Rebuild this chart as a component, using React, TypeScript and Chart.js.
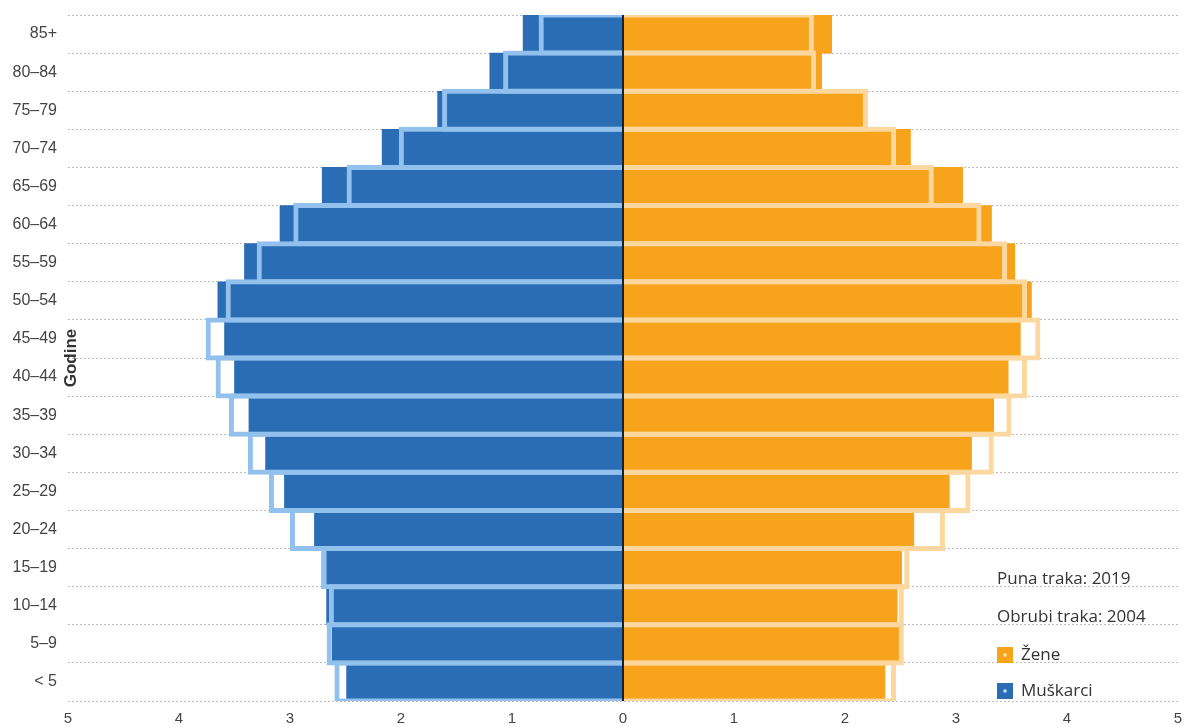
import React, { useEffect, useRef } from "react";
import { Chart, registerables } from "chart.js";

Chart.register(...registerables);

const ageGroups = ["85+", "80–84", "75–79", "70–74", "65–69", "60–64", "55–59", "50–54", "45–49", "40–44", "35–39", "30–34", "25–29", "20–24", "15–19", "10–14", "5–9", "< 5"];
const men2019 = [0.9, 1.2, 1.67, 2.17, 2.71, 3.09, 3.41, 3.65, 3.59, 3.5, 3.37, 3.22, 3.05, 2.78, 2.67, 2.67, 2.62, 2.49];
const men2004 = [0.76, 1.08, 1.63, 2.02, 2.49, 2.97, 3.3, 3.58, 3.76, 3.67, 3.55, 3.38, 3.19, 3.0, 2.72, 2.65, 2.67, 2.6];
const women2019 = [1.88, 1.79, 2.16, 2.59, 3.06, 3.32, 3.53, 3.68, 3.58, 3.47, 3.34, 3.14, 2.94, 2.62, 2.51, 2.47, 2.5, 2.36];
const women2004 = [1.72, 1.74, 2.21, 2.46, 2.8, 3.23, 3.46, 3.64, 3.76, 3.64, 3.5, 3.34, 3.13, 2.9, 2.58, 2.53, 2.53, 2.46];
const xMin = -5;
const xMax = 5;
const axisTitle = "Godine";
const noteLines = ["Puna traka: 2019", "Obrubi traka: 2004"];
const seriesNames = ["Žene", "Muškarci"];

const BLUE = "#2a6db4";
const BLUE_LIGHT = "#93c1ee";
const ORANGE = "#f7a31c";
const ORANGE_LIGHT = "#fcd79f";

export default function App() {
  const ref = useRef<HTMLCanvasElement | null>(null);

  useEffect(() => {
    document.body.style.margin = "0";
    const canvas = ref.current;
    if (!canvas) return;

    const overlay = {
      id: "overlay",
      afterDatasetsDraw(chart: any) {
        const { ctx, chartArea } = chart;
        const x0 = chart.scales.x.getPixelForValue(0);
        ctx.save();
        ctx.strokeStyle = "#17212c";
        ctx.lineWidth = 2;
        ctx.beginPath();
        ctx.moveTo(x0, chartArea.top);
        ctx.lineTo(x0, chartArea.bottom);
        ctx.stroke();
        ctx.restore();
      },
      afterDraw(chart: any) {
        const { ctx, chartArea } = chart;
        ctx.save();
        ctx.translate(chartArea.left + 3, (chartArea.top + chartArea.bottom) / 2);
        ctx.rotate(-Math.PI / 2);
        ctx.font = 'bold 17px "Liberation Sans", Arial, sans-serif';
        ctx.fillStyle = "#333";
        ctx.textAlign = "center";
        ctx.textBaseline = "middle";
        ctx.fillText(axisTitle, 0, 0);
        ctx.restore();

        ctx.save();
        const lx = 997;
        ctx.font = '17px "Open Sans", sans-serif';
        ctx.fillStyle = "#333";
        ctx.textBaseline = "middle";
        ctx.textAlign = "left";
        ctx.fillText(noteLines[0], lx, 579);
        ctx.fillText(noteLines[1], lx, 617);
        const markers = [
          { y: 655, c: ORANGE, d: "#fde9b0", t: seriesNames[0] },
          { y: 691, c: BLUE, d: "#cfe3f7", t: seriesNames[1] },
        ];
        for (const m of markers) {
          ctx.fillStyle = m.c;
          ctx.fillRect(lx, m.y - 8, 16, 16);
          ctx.fillStyle = m.d;
          ctx.fillRect(lx + 6.5, m.y - 1.5, 3, 3);
          ctx.fillStyle = "#333";
          ctx.fillText(m.t, lx + 24, m.y);
        }
        ctx.restore();
      },
    };

    const outlinePct = 1 + 5 / 38.1;

    const chart = new Chart(canvas, {
      type: "bar",
      data: {
        labels: ageGroups,
        datasets: [
          {
            label: "Muškarci 2004",
            data: men2004.map((v) => -v),
            backgroundColor: "rgba(0,0,0,0)",
            borderColor: BLUE_LIGHT,
            borderWidth: 5,
            borderSkipped: "start",
            barPercentage: outlinePct,
            categoryPercentage: 1,
            grouped: false,
          },
          {
            label: "Žene 2004",
            data: women2004,
            backgroundColor: "rgba(0,0,0,0)",
            borderColor: ORANGE_LIGHT,
            borderWidth: 5,
            borderSkipped: "start",
            barPercentage: outlinePct,
            categoryPercentage: 1,
            grouped: false,
          },
          {
            label: "Muškarci 2019",
            data: men2019.map((v) => -v),
            backgroundColor: BLUE,
            borderWidth: 0,
            barPercentage: 1,
            categoryPercentage: 1,
            grouped: false,
          },
          {
            label: "Žene 2019",
            data: women2019,
            backgroundColor: ORANGE,
            borderWidth: 0,
            barPercentage: 1,
            categoryPercentage: 1,
            grouped: false,
          },
        ],
      } as any,
      options: {
        indexAxis: "y",
        animation: false,
        responsive: false,
        layout: { padding: { top: 15, right: 7, left: 0, bottom: 0 } },
        plugins: {
          legend: { display: false },
          tooltip: { enabled: false },
          title: { display: false },
        },
        scales: {
          x: {
            min: xMin,
            max: xMax,
            ticks: {
              stepSize: 1,
              padding: 9,
              color: "#444",
              font: { family: '"Liberation Sans", Arial, sans-serif', size: 15 },
              callback: (v: any) => String(Math.abs(Number(v))),
            },
            grid: { display: false, drawTicks: false },
            border: { display: false },
            afterFit: (s: any) => {
              s.height = 26;
              s.paddingLeft = 0;
              s.paddingRight = 0;
            },
          },
          y: {
            ticks: {
              padding: 11,
              color: "#444",
              font: { family: '"Liberation Sans", Arial, sans-serif', size: 16 },
              autoSkip: false,
            },
            grid: { color: "#bdbdbd", lineWidth: 1, drawTicks: false, offset: true },
            border: { display: false, dash: [2, 2] },
            afterFit: (s: any) => {
              s.width = 68;
              s.paddingTop = 0;
              s.paddingBottom = 0;
            },
          },
        },
      } as any,
      plugins: [overlay],
    });

    return () => chart.destroy();
  }, []);

  return (
    <div style={{ width: 1185, height: 727 }}>
      <canvas ref={ref} width={1185} height={727} style={{ display: "block" }} />
    </div>
  );
}
